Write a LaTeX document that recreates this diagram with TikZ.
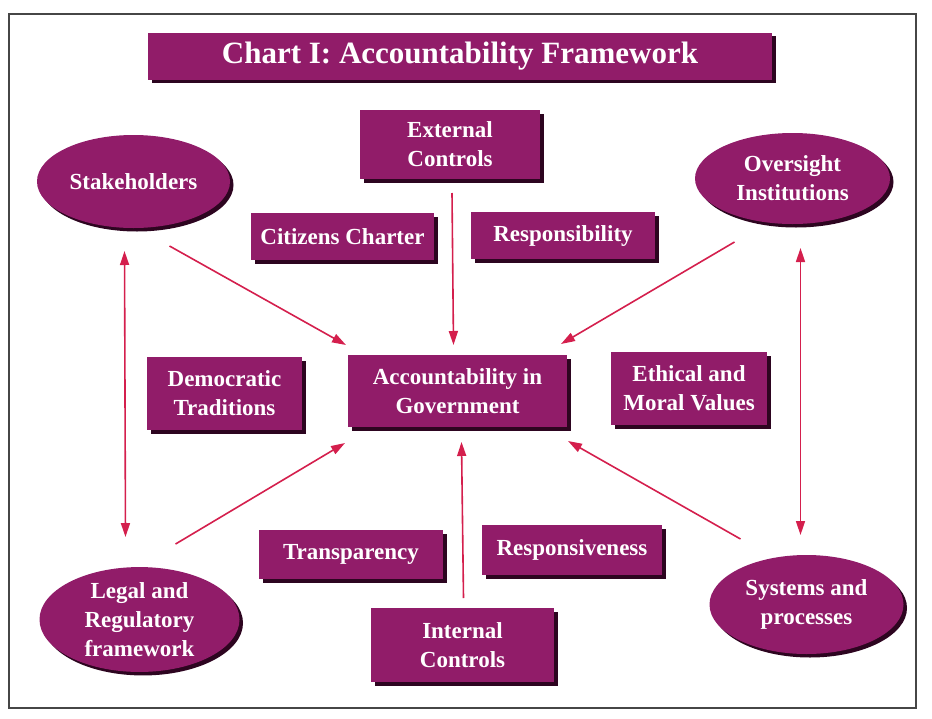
\documentclass[tikz,border=0pt]{standalone}
\usepackage{fontspec}
\setmainfont{Liberation Serif}
\usetikzlibrary{shapes.geometric,shadows,arrows.meta}
\definecolor{boxfill}{RGB}{145,28,105}
\definecolor{boxshade}{RGB}{45,5,32}
\definecolor{arrowred}{RGB}{212,31,77}
\definecolor{framegray}{RGB}{70,70,70}
\tikzset{
  basebox/.style={fill=boxfill, text=white, font=\bfseries\fontsize{23}{29}\selectfont,
    align=center, inner sep=0pt, outer sep=0pt,
    copy shadow={shadow xshift=3.5pt, shadow yshift=-3.5pt, fill=boxshade, draw=none, opacity=1}},
  rectbox/.style 2 args={basebox, rectangle, minimum width=#1, minimum height=#2},
  ovalbox/.style 2 args={basebox, ellipse, minimum width=#1, minimum height=#2},
  arr/.style={draw=arrowred, line width=1.6pt, -{Triangle[length=14pt,width=9pt]}},
  dblarr/.style={draw=arrowred, line width=1.6pt, {Triangle[length=14pt,width=9pt]}-{Triangle[length=14pt,width=9pt]}}
}
\begin{document}
\begin{tikzpicture}[x=1pt,y=-1pt]
\useasboundingbox (0,0) rectangle (932,718);
\draw[framegray, line width=1.1pt] (9,14) rectangle (916,708);

\node[rectbox={624pt}{47pt}, font=\bfseries\fontsize{31}{36}\selectfont] (title) at (460,56) {Chart I: Accountability Framework};

\node[rectbox={180pt}{69pt}] (ext) at (450,144.5) {External\\Controls};
\node[rectbox={183pt}{47pt}] (cit) at (342.5,236.5) {Citizens Charter};
\node[rectbox={184pt}{47pt}] (resp) at (563,235.5) {Responsibility};
\node[rectbox={155pt}{73pt}] (dem) at (224.5,393.5) {Democratic\\Traditions};
\node[rectbox={219pt}{72pt}] (acc) at (457.5,391) {Accountability in\\Government};
\node[rectbox={156pt}{73pt}] (eth) at (689,388.5) {Ethical and\\Moral Values};
\node[rectbox={184pt}{49pt}] (transp) at (351,554.5) {Transparency};
\node[rectbox={180pt}{50pt}] (respv) at (572,550) {Responsiveness};
\node[rectbox={183pt}{74pt}] (intc) at (462.5,645) {Internal\\Controls};

\node[ovalbox={193pt}{93pt}] (stake) at (133.5,181.5) {Stakeholders};
\node[ovalbox={195pt}{91pt}] (overs) at (792.5,178.5) {Oversight\\Institutions};
\node[ovalbox={200pt}{99pt}] (legal) at (139.5,619.5) {Legal and\\Regulatory\\framework};
\node[ovalbox={194pt}{99pt}] (sys) at (806.5,604.5) {Systems and\\processes};

\draw[arr] ([shift={(36,18)}]stake.south) -- ([shift={(-2,-10)}]acc.north west);
\draw[arr] ([shift={(-58,18)}]overs.south) -- ([shift={(-6,-11)}]acc.north east);
\draw[arr] ([shift={(2,14)}]ext.south) -- ([shift={(-4,-10)}]acc.north);
\draw[arr] ([shift={(1,-10)}]intc.north) -- ([shift={(4,15)}]acc.south);
\draw[arr] ([shift={(36,-23)}]legal.north) -- ([shift={(-3,16)}]acc.south west);
\draw[arr] ([shift={(-66,-16)}]sys.north) -- ([shift={(1,14)}]acc.south east);
\draw[dblarr] ([shift={(-9,23)}]stake.south) -- ([shift={(-14,-30)}]legal.north);
\draw[dblarr] ([shift={(8,24)}]overs.south) -- ([shift={(-6,-20)}]sys.north);
\end{tikzpicture}
\end{document}
